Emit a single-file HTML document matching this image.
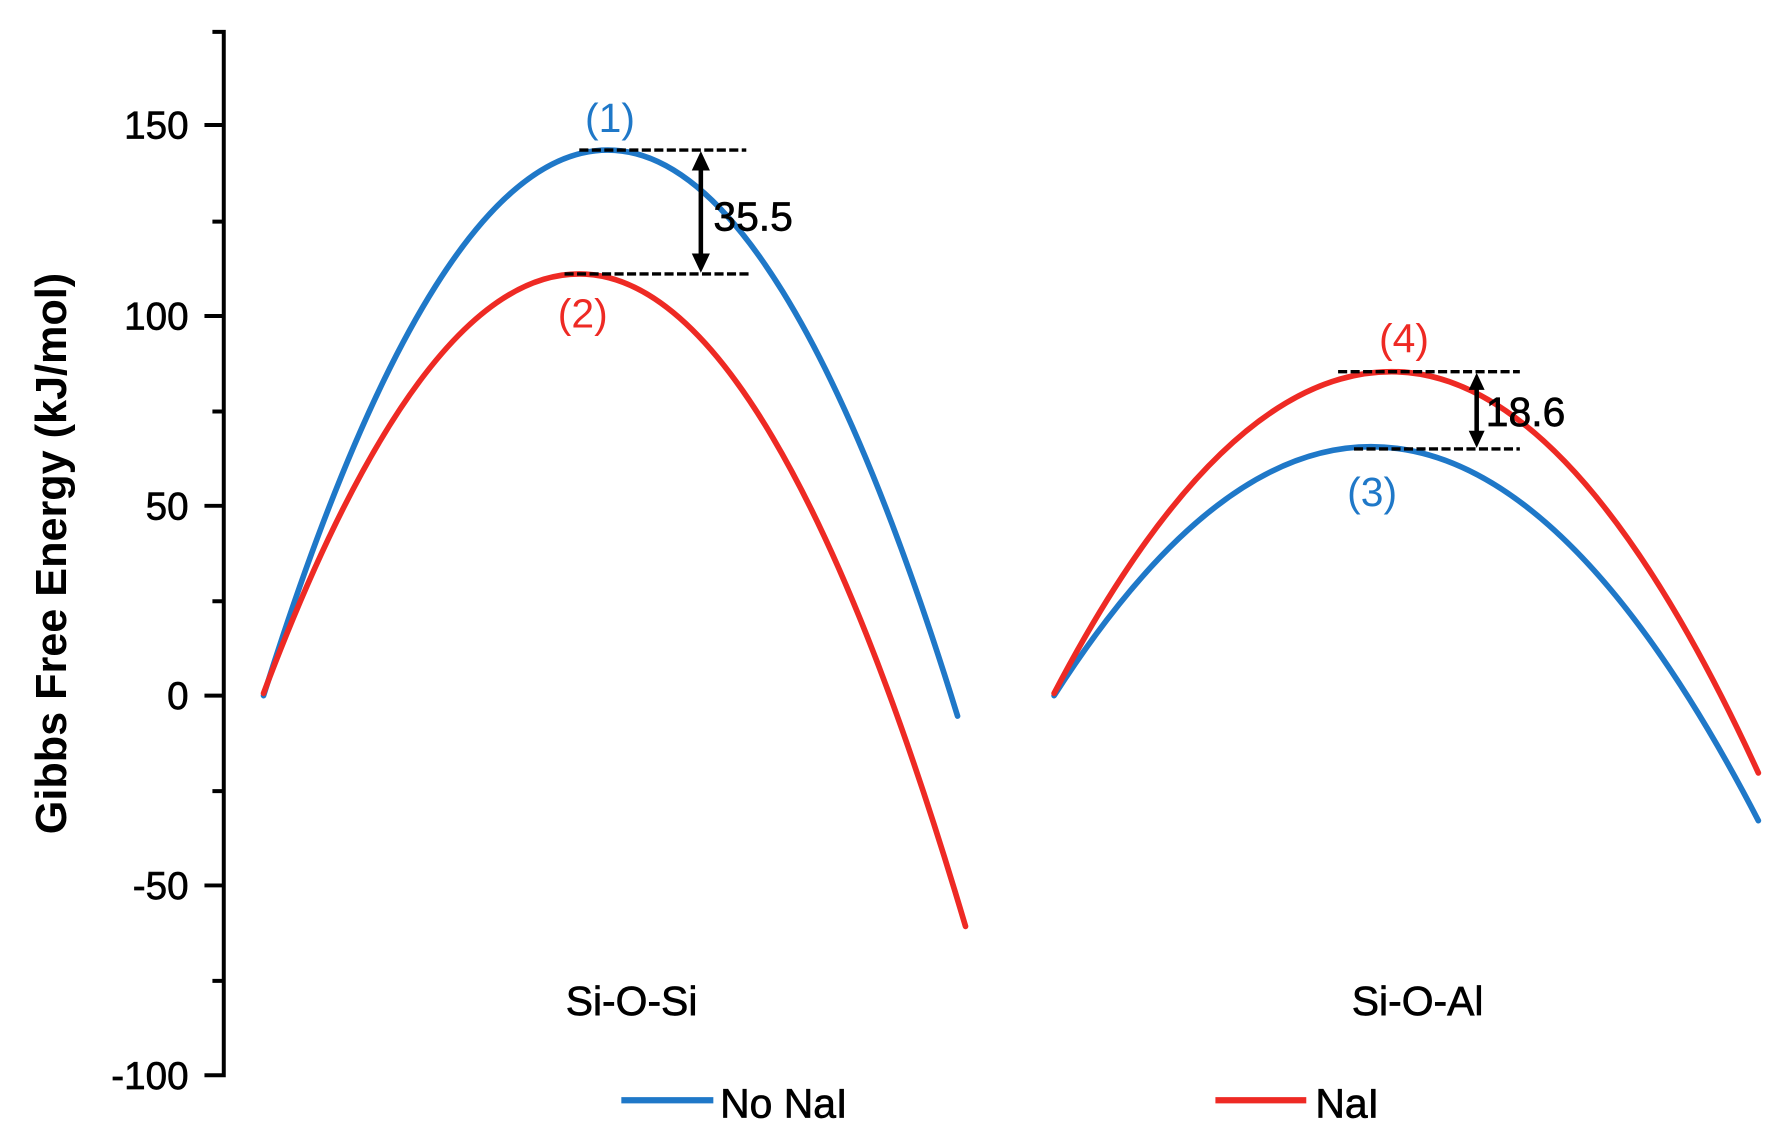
<!DOCTYPE html>
<html><head><style>html,body{margin:0;padding:0;background:#fff}svg{display:block}</style></head><body>
<svg width="1772" height="1148" viewBox="0 0 1560 1010" preserveAspectRatio="none" xmlns="http://www.w3.org/2000/svg" font-family="Liberation Sans, Arial, sans-serif">
<rect width="1560" height="1010" fill="#fff"/>
<g stroke="#000" stroke-width="3.5" fill="none">
<path d="M187 28H197V946H180"/>
<path d="M180 110H197M180 278H197M180 445H197M180 612H197M180 779H197"/>
<path d="M187 195H197M187 362H197M187 529H197M187 696H197M187 863H197"/>
</g>
<g font-size="34" text-anchor="end" fill="#000" stroke="#000" stroke-width="0.6">
<text x="166" y="122">150</text><text x="166" y="290">100</text><text x="166" y="457">50</text>
<text x="166" y="624">0</text><text x="166" y="791">-50</text><text x="166" y="958">-100</text>
</g>
<text transform="translate(58,487) rotate(-90)" font-size="38" font-weight="bold" text-anchor="middle">Gibbs Free Energy (kJ/mol)</text>
<g fill="none" stroke-width="5" stroke-linecap="round">
<path stroke="#1f78c8" d="M232 612Q383 132 535 132Q689 132 843 630"/>
<path stroke="#ee2a24" d="M232 610Q371 241 510 241Q680 241 850 815"/>
<path stroke="#1f78c8" d="M928 612Q1068 393 1207 393Q1378 393 1548 722"/>
<path stroke="#ee2a24" d="M928 610Q1076 327 1225 327Q1386 327 1548 680"/>
</g>
<g stroke="#000" stroke-width="3" stroke-dasharray="8,3" fill="none">
<path d="M510 132H657M497 241H660M1178 327H1338M1192 395H1338"/>
</g>
<g stroke="#000" stroke-width="4">
<path d="M617 142V231M1300 336V386"/>
</g>
<g fill="#000">
<path d="M617 133L609 150H625Z M617 240L609 223H625Z M1300 328L1293 343H1307Z M1300 394L1293 379H1307Z"/>
</g>
<g font-size="36" fill="#000" stroke="#000" stroke-width="0.6">
<text x="628" y="203">35.5</text><text x="1308" y="375">18.6</text>
<text x="556" y="893" text-anchor="middle">Si-O-Si</text>
<text x="1248" y="893" text-anchor="middle">Si-O-Al</text>
<text x="634" y="983">No NaI</text><text x="1158" y="983">NaI</text>
</g>
<g font-size="36" text-anchor="middle">
<text x="537" y="116" fill="#1f78c8">(1)</text>
<text x="513" y="288" fill="#ee2a24">(2)</text>
<text x="1236" y="310" fill="#ee2a24">(4)</text>
<text x="1208" y="445" fill="#1f78c8">(3)</text>
</g>
<path d="M547 968H628" stroke="#1f78c8" stroke-width="5.5"/>
<path d="M1070 968H1150" stroke="#ee2a24" stroke-width="5.5"/>
</svg>
</body></html>
